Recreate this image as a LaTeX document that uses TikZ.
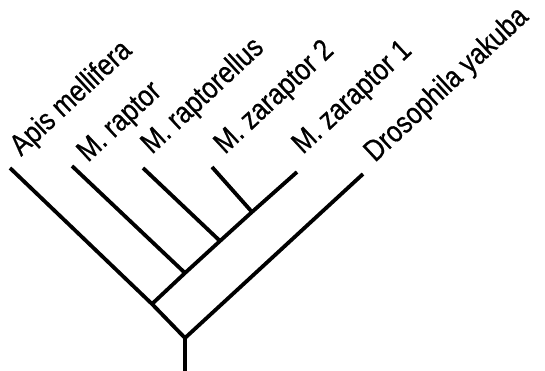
\documentclass[tikz,border=0pt]{standalone}
\usepackage{fontspec}
\setmainfont[FakeStretch=0.85,FakeBold=0.6]{Liberation Sans}
\begin{document}
\begin{tikzpicture}[x=1pt,y=1pt,
  branch/.style={line width=3.8pt,line cap=butt,line join=miter},
  taxon/.style={anchor=base west,inner sep=0pt,rotate=43,font=\fontsize{30}{34}\selectfont}]
\useasboundingbox (0,0) rectangle (545,371);
% internal nodes
\coordinate (base) at (185,0);
\coordinate (root) at (185,33);
\coordinate (n1) at (152,67);
\coordinate (n2) at (185,98);
\coordinate (n3) at (220,130);
\coordinate (n4) at (252,159);
% tips
\coordinate (tApis) at (10,203);
\coordinate (tRap) at (72,205);
\coordinate (tRapl) at (143,203);
\coordinate (tZar2) at (212,204);
\coordinate (tZar1) at (297,199);
\coordinate (tDros) at (363,197);
% branches
\draw[branch] (base) -- (root);
\draw[branch] (tApis) -- (n1) -- (root) -- (tDros);
\draw[branch] (n1) -- (n2) -- (n3) -- (n4) -- (tZar1);
\draw[branch] (tRap) -- (n2);
\draw[branch] (tRapl) -- (n3);
\draw[branch] (tZar2) -- (n4);
% labels
\node[taxon] (lApis) at (21,214) {Apis mellifera};
\node[taxon] (lRap) at (88,208) {M. raptor};
\node[taxon] (lRapl) at (152,216) {M. raptorellus};
\node[taxon] (lZar2) at (225,216) {M. zaraptor 2};
\node[taxon] (lZar1) at (303,216) {M. zaraptor 1};
\node[taxon] (lDros) at (375,208) {Drosophila yakuba};
\end{tikzpicture}
\end{document}
